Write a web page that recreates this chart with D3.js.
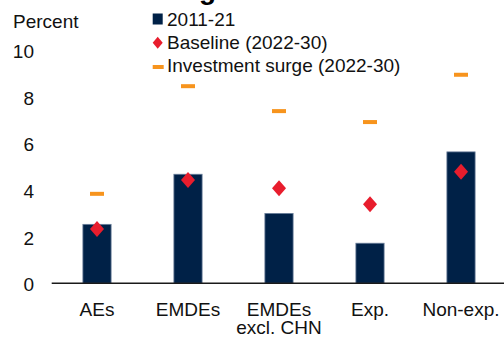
<!DOCTYPE html>
<html>
<head>
<meta charset="utf-8">
<script src="https://cdn.jsdelivr.net/npm/d3@7"></script>
<style>
  html, body { margin: 0; padding: 0; background: #fff; }
  svg { display: block; font-family: "Liberation Sans", Arial, sans-serif; }
</style>
</head>
<body>
<svg id="chart" width="504" height="345"></svg>
<script>
// Categories (second line of a label after "\n")
const categories = ["AEs", "EMDEs", "EMDEs\nexcl. CHN", "Exp.", "Non-exp."];
// Average growth, 2011-21 (bars)
const hist2011_21 = [2.53, 4.68, 3.00, 1.72, 5.64];
// Baseline projection, 2022-30 (diamonds)
const baseline2022_30 = [2.33, 4.43, 4.08, 3.39, 4.79];
// Investment surge scenario, 2022-30 (dashes)
const surge2022_30 = [3.84, 8.46, 7.39, 6.92, 8.95];
const yTicks = [0, 2, 4, 6, 8, 10];
const legendItems = ["2011-21", "Baseline (2022-30)", "Investment surge (2022-30)"];

const NAVY = "#002147", RED = "#e81d2d", ORANGE = "#f7941d";

const svg = d3.select("#chart");

const x = d3.scaleBand()
  .domain(categories)
  .range([51.5, 506.5])
  .paddingInner(0.69)
  .paddingOuter(0.345);

const y = d3.scaleLinear().domain([0, 10]).range([283.3, 50.3]);

// Title (runs off the top edge)
svg.append("text")
  .attr("x", 199).attr("y", -1)
  .attr("font-size", 28).attr("font-weight", "bold")
  .attr("fill", "#000")
  .text("g");

// Unit label
svg.append("text")
  .attr("x", 13).attr("y", 28.3)
  .attr("font-size", 19).attr("fill", "#111")
  .text("Percent");

// Y tick labels
svg.append("g").selectAll("text")
  .data(yTicks).join("text")
  .attr("x", 34)
  .attr("y", d => y(d) + 1.2)
  .attr("dy", "0.35em")
  .attr("text-anchor", "end")
  .attr("font-size", 19).attr("fill", "#111")
  .text(d => d);

// Bars
svg.append("g").selectAll("rect")
  .data(hist2011_21).join("rect")
  .attr("x", (d, i) => x(categories[i]))
  .attr("y", d => y(d))
  .attr("width", x.bandwidth())
  .attr("height", d => y(0) - y(d))
  .attr("fill", NAVY)
  .attr("stroke", "#6a7f9a")
  .attr("stroke-width", 0.8);

// Zero axis line
svg.append("line")
  .attr("x1", 51.7).attr("x2", 504)
  .attr("y1", y(0)).attr("y2", y(0))
  .attr("stroke", "#1a1a1a").attr("stroke-width", 1.5);

// Investment surge dashes
svg.append("g").selectAll("rect")
  .data(surge2022_30).join("rect")
  .attr("x", (d, i) => x(categories[i]) + x.bandwidth() / 2 - 7)
  .attr("y", d => y(d) - 2)
  .attr("width", 14).attr("height", 4)
  .attr("fill", ORANGE);

// Baseline diamonds
const diamond = "M0,-8L7,0L0,8L-7,0Z";
svg.append("g").selectAll("path")
  .data(baseline2022_30).join("path")
  .attr("transform", (d, i) => `translate(${x(categories[i]) + x.bandwidth() / 2},${y(d)})`)
  .attr("d", diamond)
  .attr("fill", RED);

// X category labels
const xl = svg.append("g").selectAll("text")
  .data(categories).join("text")
  .attr("x", d => x(d) + x.bandwidth() / 2)
  .attr("y", 316)
  .attr("text-anchor", "middle")
  .attr("font-size", 19).attr("fill", "#111");
xl.each(function(d) {
  const lines = d.split("\n");
  const t = d3.select(this);
  lines.forEach((ln, k) => {
    t.append("tspan")
      .attr("x", x(d) + x.bandwidth() / 2)
      .attr("dy", k === 0 ? 0 : 17.5)
      .text(ln);
  });
});

// Legend
const lg = svg.append("g");
const lgBase = [25.5, 48.5, 71.5];
lg.append("rect").attr("x", 152.7).attr("y", 13.5).attr("width", 10).attr("height", 11).attr("fill", NAVY);
lg.append("path").attr("transform", "translate(157.7,42.7)").attr("d", "M0,-6L5,0L0,6L-5,0Z").attr("fill", RED);
lg.append("rect").attr("x", 152.7).attr("y", 65).attr("width", 11).attr("height", 4).attr("fill", ORANGE);
lg.selectAll("text")
  .data(legendItems).join("text")
  .attr("x", 167)
  .attr("y", (d, i) => lgBase[i])
  .attr("font-size", 19).attr("fill", "#111")
  .text(d => d);
</script>
</body>
</html>
